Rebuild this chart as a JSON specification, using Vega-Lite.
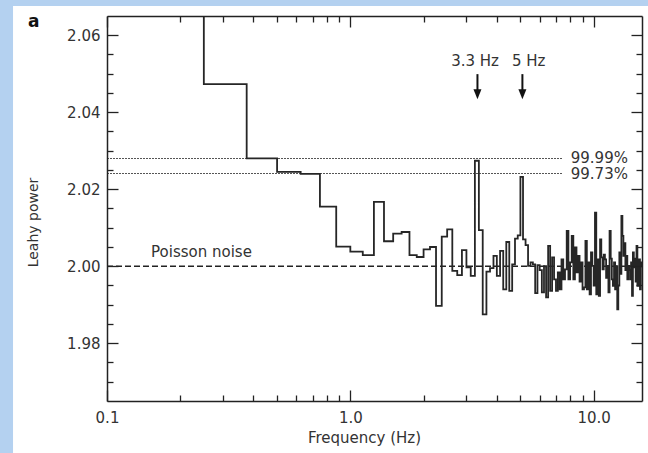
{
  "$schema": "https://vega.github.io/schema/vega-lite/v6.json",
  "width": 535,
  "height": 385,
  "autosize": {"type": "none"},
  "padding": {"left": 107, "top": 16, "right": 6, "bottom": 52},
  "background": "#b4d1f0",
  "config": {"font": "DejaVu Sans", "view": {"stroke": null}},
  "title": {"text": "a", "anchor": "start", "frame": "group", "fontSize": 17, "fontWeight": "bold", "color": "#111", "dx": -79, "dy": 25, "offset": 0},
  "datasets": {
    "spectrum": [
      {"f": 0.125, "p": 2.09}, {"f": 0.25, "p": 2.0473}, {"f": 0.375, "p": 2.028}, {"f": 0.5, "p": 2.0245},
      {"f": 0.625, "p": 2.024}, {"f": 0.75, "p": 2.0155}, {"f": 0.875, "p": 2.0051}, {"f": 1.0, "p": 2.0038},
      {"f": 1.125, "p": 2.0029}, {"f": 1.25, "p": 2.0167}, {"f": 1.375, "p": 2.0065}, {"f": 1.5, "p": 2.0085},
      {"f": 1.625, "p": 2.0089}, {"f": 1.75, "p": 2.0029}, {"f": 1.875, "p": 2.0024}, {"f": 2.0, "p": 2.0044},
      {"f": 2.125, "p": 2.005}, {"f": 2.25, "p": 1.9897}, {"f": 2.375, "p": 2.0077}, {"f": 2.5, "p": 2.0096},
      {"f": 2.625, "p": 1.9988}, {"f": 2.75, "p": 1.9977}, {"f": 2.875, "p": 2.0042}, {"f": 3.0, "p": 1.9997},
      {"f": 3.125, "p": 1.9975}, {"f": 3.25, "p": 2.0274}, {"f": 3.375, "p": 2.0094}, {"f": 3.5, "p": 1.9875},
      {"f": 3.625, "p": 1.9986}, {"f": 3.75, "p": 1.9995}, {"f": 3.875, "p": 2.0027}, {"f": 4.0, "p": 1.9975},
      {"f": 4.125, "p": 2.004}, {"f": 4.25, "p": 1.994}, {"f": 4.375, "p": 2.0063}, {"f": 4.5, "p": 1.9936},
      {"f": 4.625, "p": 2.0005}, {"f": 4.75, "p": 2.0072}, {"f": 4.875, "p": 2.008}, {"f": 5.0, "p": 2.0232},
      {"f": 5.125, "p": 2.007}, {"f": 5.25, "p": 2.0055}, {"f": 5.375, "p": 2.0001}, {"f": 5.5, "p": 2.001},
      {"f": 5.625, "p": 2.0005}, {"f": 5.75, "p": 1.993}, {"f": 5.875, "p": 2.0003}, {"f": 6.0, "p": 1.999},
      {"f": 6.125, "p": 1.9932}, {"f": 6.25, "p": 2.0}, {"f": 6.375, "p": 1.9919}, {"f": 6.5, "p": 2.0053},
      {"f": 6.625, "p": 1.9936}, {"f": 6.75, "p": 2.0023}, {"f": 6.875, "p": 1.9966}, {"f": 7.0, "p": 1.9936},
      {"f": 7.125, "p": 1.9984}, {"f": 7.25, "p": 1.994}, {"f": 7.375, "p": 2.0018}, {"f": 7.5, "p": 1.9966},
      {"f": 7.625, "p": 1.9992}, {"f": 7.75, "p": 2.0092}, {"f": 7.875, "p": 1.9966}, {"f": 8.0, "p": 2.001},
      {"f": 8.125, "p": 2.0079}, {"f": 8.25, "p": 1.9966}, {"f": 8.375, "p": 2.0049}, {"f": 8.5, "p": 1.9984},
      {"f": 8.625, "p": 2.0027}, {"f": 8.75, "p": 1.996}, {"f": 8.875, "p": 2.001}, {"f": 9.0, "p": 1.994},
      {"f": 9.125, "p": 1.9945}, {"f": 9.25, "p": 2.0066}, {"f": 9.375, "p": 1.994}, {"f": 9.5, "p": 2.001},
      {"f": 9.625, "p": 1.9927}, {"f": 9.75, "p": 2.0036}, {"f": 9.875, "p": 2.0001}, {"f": 10.0, "p": 1.995},
      {"f": 10.125, "p": 2.0139}, {"f": 10.25, "p": 1.9927}, {"f": 10.375, "p": 2.0018}, {"f": 10.5, "p": 1.9923},
      {"f": 10.625, "p": 2.007}, {"f": 10.75, "p": 2.0023}, {"f": 10.875, "p": 1.9992}, {"f": 11.0, "p": 2.003},
      {"f": 11.125, "p": 2.0018}, {"f": 11.25, "p": 1.997}, {"f": 11.375, "p": 2.0001}, {"f": 11.5, "p": 1.9932},
      {"f": 11.625, "p": 2.0092}, {"f": 11.75, "p": 2.002}, {"f": 11.875, "p": 1.9966}, {"f": 12.0, "p": 1.9949},
      {"f": 12.125, "p": 2.001}, {"f": 12.25, "p": 1.994}, {"f": 12.375, "p": 2.0}, {"f": 12.5, "p": 1.9888},
      {"f": 12.625, "p": 1.995}, {"f": 12.75, "p": 2.0036}, {"f": 12.875, "p": 1.998}, {"f": 13.0, "p": 2.0131},
      {"f": 13.125, "p": 2.0079}, {"f": 13.25, "p": 2.0027}, {"f": 13.375, "p": 2.006}, {"f": 13.5, "p": 1.999},
      {"f": 13.625, "p": 2.0027}, {"f": 13.75, "p": 1.9966}, {"f": 13.875, "p": 2.0001}, {"f": 14.0, "p": 1.999},
      {"f": 14.125, "p": 1.9966}, {"f": 14.25, "p": 2.001}, {"f": 14.375, "p": 1.9923}, {"f": 14.5, "p": 2.0036},
      {"f": 14.625, "p": 1.9997}, {"f": 14.75, "p": 2.002}, {"f": 14.875, "p": 1.996}, {"f": 15.0, "p": 2.0053},
      {"f": 15.125, "p": 1.9949}, {"f": 15.25, "p": 1.9958}, {"f": 15.375, "p": 2.0018}, {"f": 15.5, "p": 1.994},
      {"f": 15.625, "p": 2.001}, {"f": 15.75, "p": 2.0}, {"f": 15.875, "p": 2.0}, {"f": 16.0, "p": 2.0}
    ],
    "levels": [{"p": 2.028, "label": "99.99%"}, {"p": 2.0241, "label": "99.73%"}],
    "leftText": [{"f": 0.1517, "p": 2.0036, "label": "Poisson noise"}, {"f": 8.05, "p": 2.0282, "label": "99.99%"}, {"f": 8.05, "p": 2.0239, "label": "99.73%"}],
    "peaks": [{"f": 3.254, "p": 2.0533, "label": "3.3 Hz"}, {"f": 5.41, "p": 2.0533, "label": "5 Hz"}],
    "arrows": [{"f": 3.33}, {"f": 5.095}],
    "one": [{"k": 1}]
  },
  "layer": [
    {
      "data": {"name": "one"},
      "mark": {"type": "rect", "fill": "white", "clip": false},
      "encoding": {
        "x": {"datum": 0.0411, "type": "quantitative", "scale": {"type": "log", "domain": [0.1, 15.8], "nice": false}, "axis": null},
        "x2": {"datum": 17.5},
        "y": {"datum": 2.0676, "type": "quantitative", "scale": {"domain": [1.965, 2.065], "nice": false, "zero": false}, "axis": null},
        "y2": {"datum": 1.95}
      }
    },
    {
      "data": {"name": "levels"},
      "mark": {"type": "rule", "color": "#555", "strokeWidth": 1.1, "strokeDash": [2, 1]},
      "encoding": {
        "x": {"datum": 0.1, "type": "quantitative", "scale": {"type": "log", "domain": [0.1, 15.8], "nice": false}, "axis": null},
        "x2": {"datum": 7.45},
        "y": {"field": "p", "type": "quantitative", "scale": {"domain": [1.965, 2.065], "nice": false, "zero": false}, "axis": null}
      }
    },
    {
      "data": {"name": "one"},
      "mark": {"type": "rule", "color": "#222", "strokeWidth": 1.4, "strokeDash": [6, 3]},
      "encoding": {
        "x": {"datum": 0.1, "type": "quantitative", "scale": {"type": "log", "domain": [0.1, 15.8], "nice": false}, "axis": null},
        "x2": {"datum": 15.8},
        "y": {"datum": 2.0, "type": "quantitative", "scale": {"domain": [1.965, 2.065], "nice": false, "zero": false}, "axis": null}
      }
    },
    {
      "data": {"name": "spectrum"},
      "mark": {"type": "line", "interpolate": "step-after", "color": "#262626", "strokeWidth": 1.8, "clip": true},
      "encoding": {
        "x": {"field": "f", "type": "quantitative", "scale": {"type": "log", "domain": [0.1, 15.8], "nice": false},
          "axis": {"orient": "bottom", "zindex": 1, "values": [0.1, 0.2, 0.3, 0.4, 0.5, 0.6, 0.7, 0.8, 0.9, 1, 2, 3, 4, 5, 6, 7, 8, 9, 10],
            "labelExpr": "indexof([0.1, 1, 10], datum.value) >= 0 ? format(datum.value, '.1f') : ''",
            "tickSize": {"condition": {"test": "indexof([0.1, 1, 10], datum.value) >= 0", "value": -11}, "value": -6},
            "labelPadding": 20, "labelFontSize": 15, "labelColor": "#333", "labelOverlap": false, "labelFlush": false, "labelBound": false,
            "tickColor": "#222", "tickWidth": 1.3, "domainColor": "#222", "domainWidth": 1.5, "grid": false,
            "title": "Frequency (Hz)", "titleFontSize": 15, "titleFontWeight": "normal", "titleColor": "#333", "titleX": 257, "titleY": 36, "titleBaseline": "middle", "titleAlign": "center"}},
        "y": {"field": "p", "type": "quantitative", "scale": {"domain": [1.965, 2.065], "nice": false, "zero": false},
          "axis": {"orient": "left", "zindex": 1, "values": [1.97, 1.975, 1.98, 1.985, 1.99, 1.995, 2, 2.005, 2.01, 2.015, 2.02, 2.025, 2.03, 2.035, 2.04, 2.045, 2.05, 2.055, 2.06],
            "labelExpr": "indexof([1.98, 2, 2.02, 2.04, 2.06], datum.value) >= 0 ? format(datum.value, '.2f') : ''",
            "tickSize": {"condition": {"test": "indexof([1.98, 2, 2.02, 2.04, 2.06], datum.value) >= 0", "value": -11}, "value": -6},
            "labelPadding": 18, "labelFontSize": 15, "labelColor": "#333", "labelOverlap": false, "labelFlush": false, "labelBound": false,
            "tickColor": "#222", "tickWidth": 1.3, "domainColor": "#222", "domainWidth": 1.5, "grid": false,
            "title": "Leahy power", "titleFontSize": 14, "titleFontWeight": "normal", "titleColor": "#333", "titleX": -74, "titleY": 206, "titleBaseline": "middle", "titleAlign": "center", "titleAngle": -90}}
      }
    },
    {
      "data": {"name": "leftText"},
      "mark": {"type": "text", "align": "left", "baseline": "middle", "fontSize": 15, "color": "#333"},
      "encoding": {
        "x": {"field": "f", "type": "quantitative", "scale": {"type": "log", "domain": [0.1, 15.8], "nice": false},
          "axis": {"orient": "top", "zindex": 1, "values": [0.1, 0.2, 0.3, 0.4, 0.5, 0.6, 0.7, 0.8, 0.9, 1, 2, 3, 4, 5, 6, 7, 8, 9, 10],
            "labels": false, "title": null, "grid": false,
            "tickSize": {"condition": {"test": "indexof([0.1, 1, 10], datum.value) >= 0", "value": -11}, "value": -6},
            "tickColor": "#222", "tickWidth": 1.3, "domainColor": "#222", "domainWidth": 1.5}},
        "y": {"field": "p", "type": "quantitative", "scale": {"domain": [1.965, 2.065], "nice": false, "zero": false},
          "axis": {"orient": "right", "zindex": 1, "values": [1.97, 1.975, 1.98, 1.985, 1.99, 1.995, 2, 2.005, 2.01, 2.015, 2.02, 2.025, 2.03, 2.035, 2.04, 2.045, 2.05, 2.055, 2.06],
            "labels": false, "title": null, "grid": false,
            "tickSize": {"condition": {"test": "indexof([1.98, 2, 2.02, 2.04, 2.06], datum.value) >= 0", "value": -11}, "value": -6},
            "tickColor": "#222", "tickWidth": 1.3, "domainColor": "#222", "domainWidth": 1.5}},
        "text": {"field": "label"}
      }
    },
    {
      "data": {"name": "peaks"},
      "mark": {"type": "text", "align": "center", "baseline": "middle", "fontSize": 15, "color": "#333"},
      "encoding": {
        "x": {"field": "f", "type": "quantitative", "scale": {"type": "log", "domain": [0.1, 15.8], "nice": false}, "axis": null},
        "y": {"field": "p", "type": "quantitative", "scale": {"domain": [1.965, 2.065], "nice": false, "zero": false}, "axis": null},
        "text": {"field": "label"}
      }
    },
    {
      "data": {"name": "arrows"},
      "mark": {"type": "rule", "color": "#111", "strokeWidth": 2},
      "encoding": {
        "x": {"field": "f", "type": "quantitative", "scale": {"type": "log", "domain": [0.1, 15.8], "nice": false}, "axis": null},
        "y": {"datum": 2.0499, "type": "quantitative", "scale": {"domain": [1.965, 2.065], "nice": false, "zero": false}, "axis": null},
        "y2": {"datum": 2.0452}
      }
    },
    {
      "data": {"name": "arrows"},
      "mark": {"type": "point", "shape": "M-0.8,-1L0.8,-1L0,1Z", "size": 100, "filled": true, "color": "#111", "opacity": 1},
      "encoding": {
        "x": {"field": "f", "type": "quantitative", "scale": {"type": "log", "domain": [0.1, 15.8], "nice": false}, "axis": null},
        "y": {"datum": 2.0447, "type": "quantitative", "scale": {"domain": [1.965, 2.065], "nice": false, "zero": false}, "axis": null}
      }
    }
  ],
  "resolve": {"axis": {"x": "independent", "y": "independent"}}
}
